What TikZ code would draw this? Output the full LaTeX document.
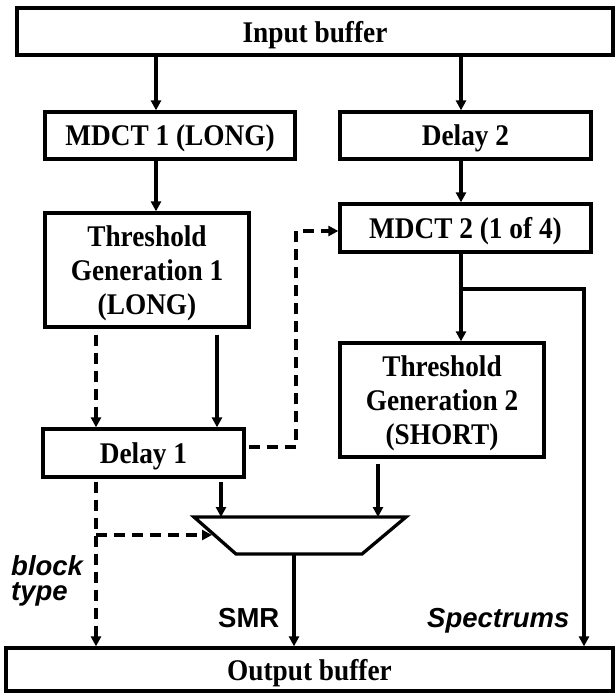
\documentclass[tikz,border=0pt]{standalone}
\usepackage{fontspec}
\setmainfont{Liberation Serif}
\newfontfamily\boxfont[FakeStretch=0.91]{Liberation Serif}
\newfontfamily\labelfont{Liberation Sans}
\usetikzlibrary{arrows.meta}
\begin{document}
\begin{tikzpicture}[x=1pt,y=-1pt,
  box/.style={draw, line width=3.3pt, inner sep=0pt, align=center, text depth=0pt,
    font=\fontsize{30}{34}\selectfont\boxfont\bfseries},
  link/.style={line width=3.3pt, -{Triangle[length=10pt,width=10pt]}},
  ctl/.style={link, dash pattern=on 11pt off 7pt},
  tag/.style={inner sep=0pt, anchor=base west,
    font=\fontsize{27.5}{30}\selectfont\labelfont\bfseries},
  slanted/.style={tag, font=\fontsize{27.5}{30}\selectfont\labelfont\bfseries\itshape}]
\useasboundingbox (0,0) rectangle (615,695);

% processing blocks
\node[box, minimum width=596pt, minimum height=47pt] (inbuf)  at (315,31.5)    {Input buffer};
\node[box, minimum width=250pt, minimum height=47pt] (mdct1)  at (170,135.5)   {MDCT 1 (LONG)};
\node[box, minimum width=251pt, minimum height=47pt] (delay2) at (465.5,135.5) {Delay 2};
\node[box, minimum width=204pt, minimum height=114pt] (tg1)   at (147,270)     {Threshold\\Generation 1\\(LONG)};
\node[box, minimum width=251pt, minimum height=48pt] (mdct2)  at (465.5,228)   {MDCT 2 (1 of 4)};
\node[box, minimum width=204pt, minimum height=114pt] (tg2)   at (442,400)     {Threshold\\Generation 2\\(SHORT)};
\node[box, minimum width=201pt, minimum height=48pt] (delay1) at (143.5,453)   {Delay 1};
\node[box, minimum width=607pt, minimum height=43pt] (outbuf) at (309.5,669.5) {Output buffer};

% selector (trapezoid)
\coordinate (mtl) at (194,517);
\coordinate (mtr) at (406,517);
\coordinate (mbr) at (362,554);
\coordinate (mbl) at (236,554);
\draw[line width=3.3pt, line join=miter] (mtl) -- (mtr) -- (mbr) -- (mbl) -- cycle;

% data paths
\draw[link] (156,0 |- inbuf.south) -- (156,0 |- mdct1.north);
\draw[link] (461,0 |- inbuf.south) -- (461,0 |- delay2.north);
\draw[link] (156,0 |- mdct1.south) -- (156,0 |- tg1.north);
\draw[link] (461,0 |- delay2.south) -- (461,0 |- mdct2.north);
\draw[link, shorten <=6pt] (217,0 |- tg1.south) -- (217,0 |- delay1.north);
\draw[link] (461,0 |- mdct2.south) -- (461,0 |- tg2.north);
\coordinate (split) at (461,289);
\draw[link] (split) -- (584,289) -- (584,0 |- outbuf.north);
\draw[link, shorten <=3pt] (221,0 |- delay1.south) -- (221,0 |- mtl);
\draw[link, shorten <=5pt] (378,0 |- tg2.south) -- (378,0 |- mtl);
\draw[link] (294,0 |- mbl) -- (294,0 |- outbuf.north);

% control paths
\draw[ctl, shorten <=6pt] (96,0 |- tg1.south) -- (96,0 |- delay1.north);
\draw[ctl, shorten <=3pt] (delay1.east |- 0,447) -- (296,447) -- (296,231) -- (mdct2.west |- 0,231);
\draw[ctl, shorten <=3pt] (96,0 |- delay1.south) -- (96,0 |- outbuf.north);
\coordinate (tap) at (96,535);
\draw[ctl] (tap) -- (212,535);

% signal labels
\node[slanted] (blk)  at (11,575)  {block};
\node[slanted] (typ)  at (11,600)  {type};
\node[tag]     (smr)  at (218,627) {SMR};
\node[slanted] (spec) at (427,627) {Spectrums};
\end{tikzpicture}
\end{document}
